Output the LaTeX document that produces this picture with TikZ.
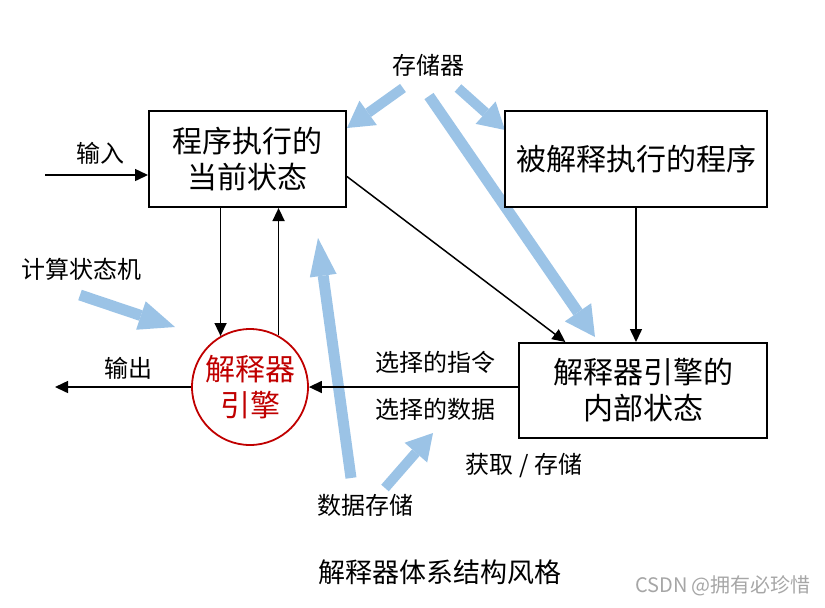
\documentclass[tikz,border=0pt]{standalone}
\usepackage{fontspec}
\setmainfont{Noto Sans CJK SC}
\usetikzlibrary{
	arrows.meta,
	positioning,
	calc
}
\definecolor{memblue}{RGB}{155,195,230}
\definecolor{engred}{RGB}{192,0,0}

\begin{document}
\begin{tikzpicture}[
    x=0.5pt, y=-0.5pt,
    box/.style={rectangle, draw, fill=white, line width=1pt, align=center, inner sep=0pt, font=\fontsize{15}{18}\selectfont},
    lbl/.style={inner sep=0pt, font=\fontsize{12}{14}\selectfont},
    arrow/.style={-{Triangle[length=6.5pt,width=6pt]}, line width=0.75pt},
    flow/.style={draw=memblue, line width=5pt, -{Triangle[length=13pt,width=15pt,line width=0pt]}}
]
\useasboundingbox (0,0) rectangle (825,607);

\coordinate (m1s) at (403,88);
\coordinate (m1e) at (347,128);
\coordinate (m2s) at (458,88);
\coordinate (m2e) at (505,130);
\coordinate (m3s) at (429,96);
\coordinate (m3e) at (595,337);
\coordinate (f1s) at (80,295);
\coordinate (f1e) at (175,327);
\coordinate (d1s) at (351,478);
\coordinate (d1e) at (318,238);
\coordinate (d2s) at (385,488);
\coordinate (d2e) at (433,433);

\draw[flow] (m1s) -- (m1e);
\draw[flow] (m2s) -- (m2e);
\draw[flow, line width=5.5pt, -{Triangle[length=15pt,width=16pt,line width=0pt]}] (m3s) -- (m3e);
\draw[flow, line width=5.5pt, -{Triangle[length=18pt,width=15pt,line width=0pt]}] (f1s) -- (f1e);
\draw[flow, line width=5.5pt, -{Triangle[length=19pt,width=13.5pt,line width=0pt]}] (d1s) -- (d1e);
\draw[flow] (d2s) -- (d2e);

\node[box, minimum width=98.5pt, minimum height=48pt] (state) at (247.5,159) {程序执行的\\当前状态};
\node[box, minimum width=131pt, minimum height=48pt] (prog) at (636,159) {被解释执行的程序};
\node[box, minimum width=124pt, minimum height=47.5pt] (inner) at (643,390.5) {解释器引擎的\\内部状态};
\node[circle, draw=engred, line width=0.9pt, text=engred, minimum size=58pt, inner sep=0pt, align=center, font=\fontsize{15}{18}\selectfont] (engine) at (250,387) {解释器\\引擎};

\node[lbl] (inlbl) at (100,153) {输入};
\node[lbl] (mem) at (428,65) {存储器};
\node[lbl] (fsm) at (81,269) {计算状态机};
\node[lbl] (outlbl) at (128,368) {输出};
\node[lbl] (selins) at (435,362) {选择的指令};
\node[lbl] (seldat) at (435,409) {选择的数据};
\node[lbl] (fetch) at (524,466) {获取 / 存储};
\node[lbl] (datamem) at (365,505) {数据存储};
\node[inner sep=0pt, font=\fontsize{13.5}{16}\selectfont] (title) at (440,572) {解释器体系结构风格};
\node[inner sep=0pt, font=\fontsize{10}{12}\selectfont, text=gray!70] (mark) at (723,586) {CSDN @拥有必珍惜};

\coordinate (inpt) at (45,175);
\coordinate (outpt) at (55,387);

\draw[arrow] (inpt) -- (inpt -| state.west);
\draw[arrow] (state.south -| engine.120) -- (engine.120);
\draw[arrow] (engine.61) -- (engine.61 |- state.south);
\draw[arrow] (engine.west) -- (outpt);
\draw[arrow] (engine.east -| inner.west) -- (engine.east);
\draw[arrow] (state.-10) -- (inner.148);
\draw[arrow] (prog.south) -- (prog.south |- inner.north);
\end{tikzpicture}
\end{document}
